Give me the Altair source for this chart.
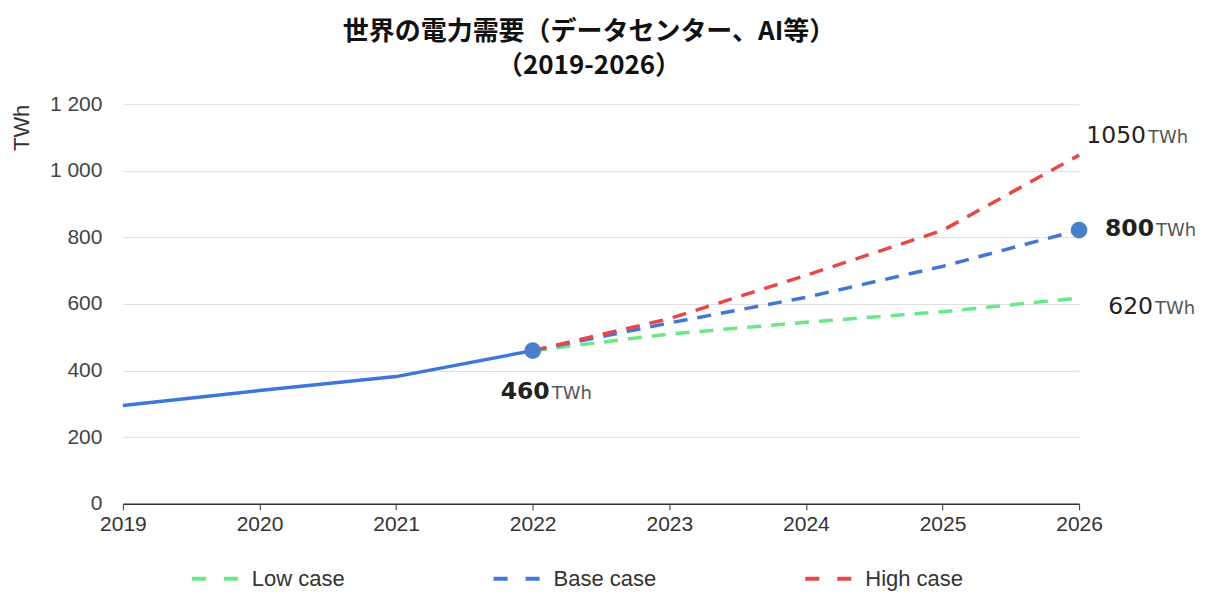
import altair as alt
import pandas as pd

# ---- data ----
years_actual = [2019, 2020, 2021, 2022]
actual_twh = [295, 340, 382, 460]

years_proj = [2022, 2023, 2024, 2025, 2026]
low_case = [460, 510, 545, 577, 618]
base_case = [460, 543, 620, 713, 822]
high_case = [460, 556, 686, 821, 1047]

case_names = ["Low case", "Base case", "High case"]
case_colors = ["#6ae889", "#4377d6", "#e8474a"]

x_ticks = [2019, 2020, 2021, 2022, 2023, 2024, 2025, 2026]
y_ticks = [0, 200, 400, 600, 800, 1000, 1200]

dot_years = [2022, 2026]
dot_values = [460, 822]

ann_years = [2022, 2026, 2026, 2026]
ann_values = [460, 1050, 800, 620]
ann_nums = ["460", "1050", "800", "620"]
ann_units = ["TWh", "TWh", "TWh", "TWh"]

# ---- tables ----
actual_df = pd.DataFrame({"year": years_actual, "value": actual_twh})
rows = []
for name, vals in zip(case_names, [low_case, base_case, high_case]):
    for yr, v in zip(years_proj, vals):
        rows.append({"year": yr, "value": v, "case": name})
case_df = pd.DataFrame(rows)
dot_df = pd.DataFrame({"year": dot_years, "value": dot_values})
ann_df = pd.DataFrame({"year": ann_years, "value": ann_values,
                       "num": ann_nums, "unit": ann_units})

AX_FONT = "Liberation Sans"
NUM_FONT = "DejaVu Sans"

x_enc = alt.X(
    "year:Q",
    scale=alt.Scale(domain=[2019, 2026], nice=False, zero=False),
    axis=alt.Axis(
        values=x_ticks, format="d", title=None, grid=False,
        domainColor="#333333", domainWidth=1.5, tickColor="#333333",
        tickSize=6, labelFont=AX_FONT, labelFontSize=21, labelColor="#333333",
        labelPadding=4, labelFlush=False,
    ),
)
y_enc = alt.Y(
    "value:Q",
    scale=alt.Scale(domain=[0, 1200], nice=False),
    axis=alt.Axis(
        values=y_ticks, title="TWh", domain=False, ticks=False,
        labelExpr="replace(format(datum.value, ','), ',', ' ')",
        labelFont=AX_FONT, labelFontSize=21, labelColor="#444444",
        labelPadding=21, gridColor="#e0e0e0", gridWidth=1,
        titleFont=AX_FONT, titleFontSize=22, titleFontWeight="normal",
        titleColor="#333333", titleAngle=-90, titleAlign="right",
        titleBaseline="middle", titleX=-101, titleY=0,
    ),
)

actual_line = alt.Chart(actual_df).mark_line(
    color="#3f77d8", strokeWidth=3.5
).encode(x=x_enc, y=y_enc)

case_lines = alt.Chart(case_df).mark_line(
    strokeWidth=3.5, strokeDash=[14, 10]
).encode(
    x=x_enc, y=y_enc,
    color=alt.Color(
        "case:N",
        scale=alt.Scale(domain=case_names, range=case_colors),
        sort=case_names,
        legend=alt.Legend(
            title=None, orient="none", direction="horizontal",
            legendX=67, legendY=448,
            symbolType="stroke", symbolSize=2500, symbolStrokeWidth=4,
            symbolDash=[14, 18], labelFont=AX_FONT, labelFontSize=22,
            labelColor="#333333", labelOffset=8, columnPadding=141,
        ),
    ),
)

dots = alt.Chart(dot_df).mark_circle(
    size=280, color="#4a7fcb", opacity=1
).encode(x=x_enc, y=y_enc)

ann_layers = []
ann_style = {
    "460": dict(dx=17, dy=48, bold=True),
    "1050": dict(dx=67, dy=-11, bold=False),
    "800": dict(dx=75, dy=-1, bold=True),
    "620": dict(dx=74, dy=17, bold=False),
}
for num in ann_nums:
    st = ann_style[num]
    base = alt.Chart(ann_df).transform_filter(alt.datum.num == num)
    ann_layers.append(
        base.mark_text(
            align="right", baseline="alphabetic", dx=st["dx"], dy=st["dy"],
            font=NUM_FONT, fontSize=23.5,
            fontWeight="bold" if st["bold"] else "normal", color="#222222",
        ).encode(x=x_enc, y=y_enc, text="num:N")
    )
    ann_layers.append(
        base.mark_text(
            align="left", baseline="alphabetic", dx=st["dx"] + 2, dy=st["dy"],
            font=NUM_FONT, fontSize=18, color="#555555",
        ).encode(x=x_enc, y=y_enc, text="unit:N")
    )

chart = alt.layer(actual_line, case_lines, dots, *ann_layers).properties(
    width=957,
    height=400,
    background="white",
    title=alt.TitleParams(
        text=["世界の電力需要（データセンター、AI等）", "（2019-2026）"],
        font="Noto Sans CJK JP", fontSize=26, fontWeight="bold",
        color="#111111", anchor="middle", dx=-12, offset=14, lineHeight=34,
    ),
    autosize=alt.AutoSizeParams(type="none"),
    padding={"left": 115, "top": 96, "right": 120, "bottom": 92},
).configure_view(stroke=None)

chart.save("out.html", embed_options={"renderer": "svg", "actions": False})
